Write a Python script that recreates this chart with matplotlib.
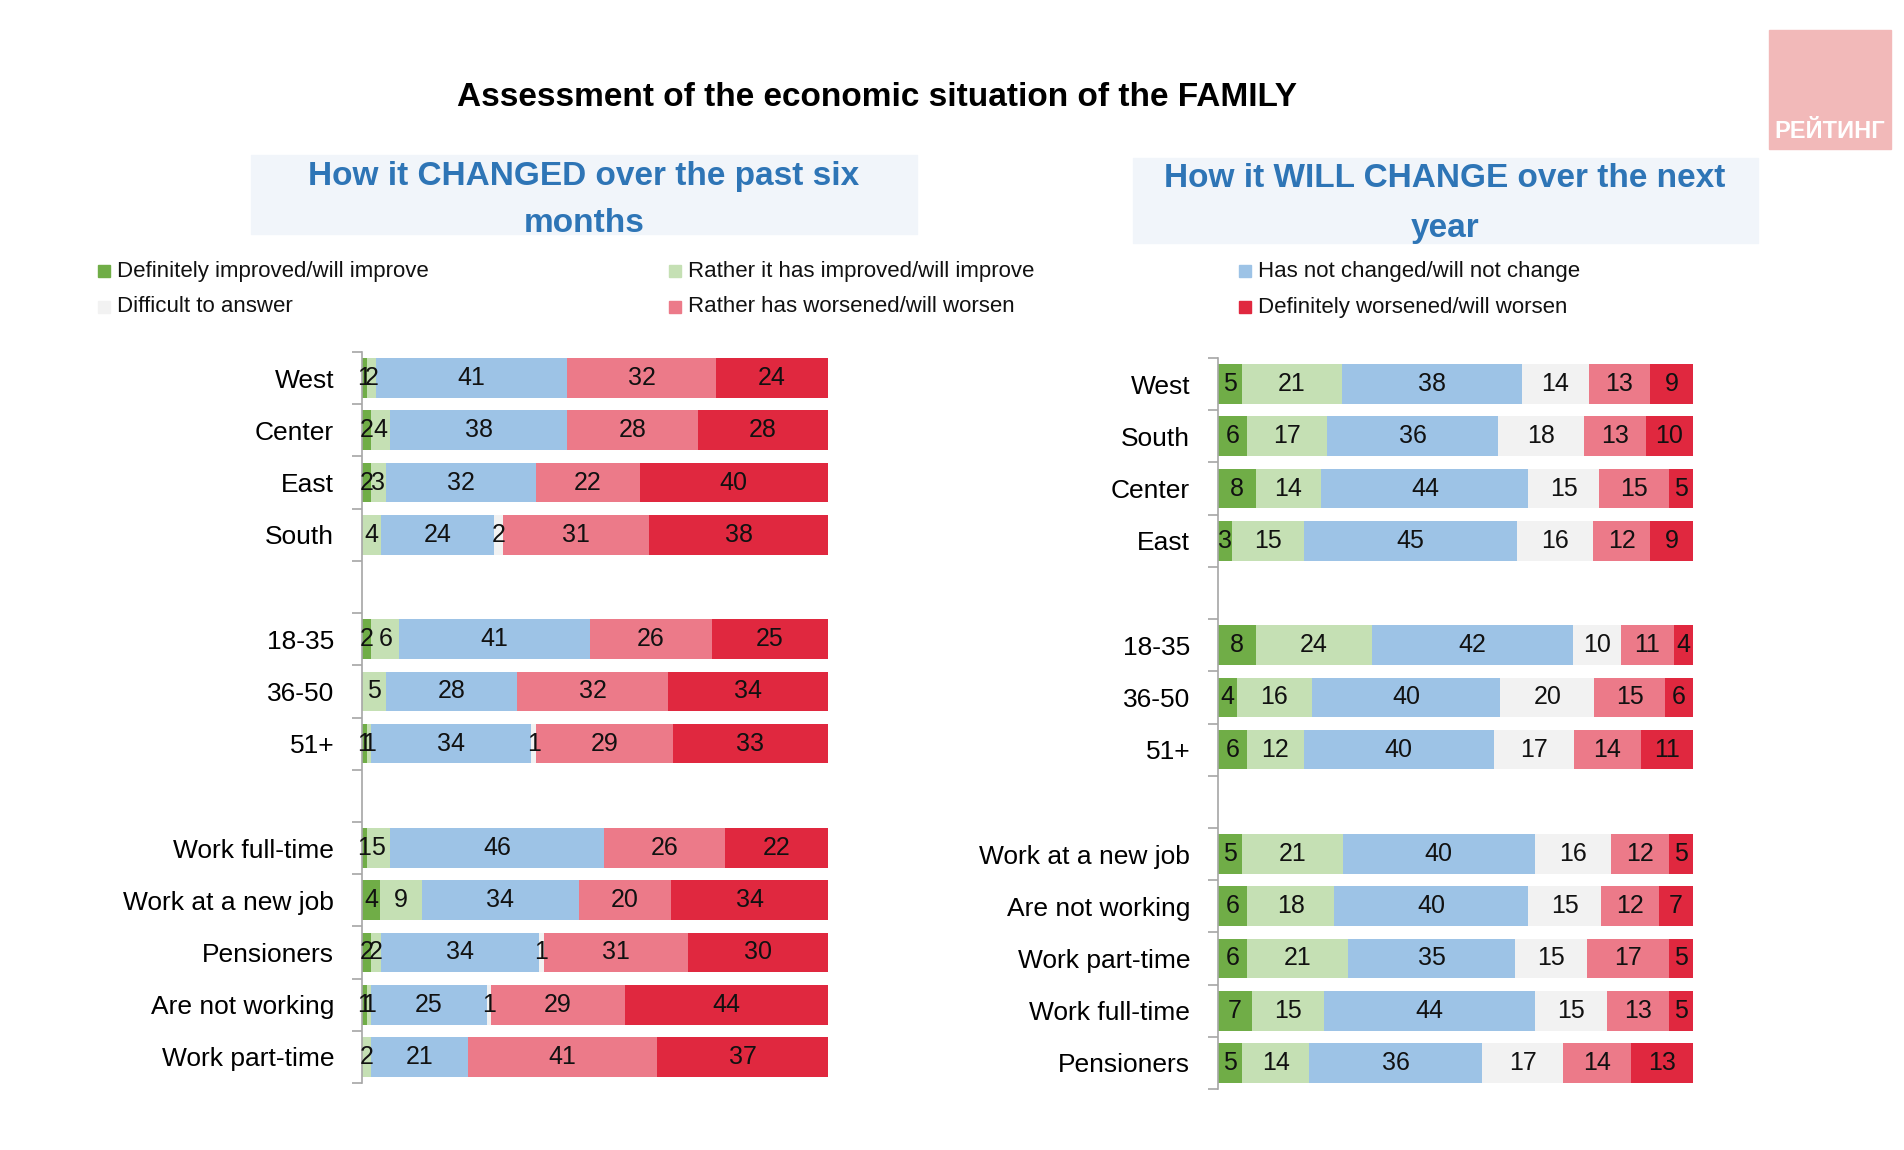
import matplotlib.pyplot as plt
import numpy as np
from matplotlib.patches import Rectangle

plt.rcParams['font.family'] = ['Liberation Sans', 'DejaVu Sans']

# answer options, in stacking order
options = [
    "Definitely improved/will improve",
    "Rather it has improved/will improve",
    "Has not changed/will not change",
    "Difficult to answer",
    "Rather has worsened/will worsen",
    "Definitely worsened/will worsen",
]
colors = ["#70ad47", "#c5e0b4", "#9dc3e6", "#f2f2f2", "#ec7a89", "#e0283f"]

# left panel: how it changed over the past six months
past_cats = ["West", "Center", "East", "South",
             "18-35", "36-50", "51+",
             "Work full-time", "Work at a new job", "Pensioners", "Are not working", "Work part-time"]
past_groups = [4, 3, 5]
past_def_improved = [1, 2, 2, 0, 2, 0, 1, 1, 4, 2, 1, 0]
past_rather_improved = [2, 4, 3, 4, 6, 5, 1, 5, 9, 2, 1, 2]
past_not_changed = [41, 38, 32, 24, 41, 28, 34, 46, 34, 34, 25, 21]
past_difficult = [0, 0, 0, 2, 0, 0, 1, 0, 0, 1, 1, 0]
past_rather_worse = [32, 28, 22, 31, 26, 32, 29, 26, 20, 31, 29, 41]
past_def_worse = [24, 28, 40, 38, 25, 34, 33, 22, 34, 30, 44, 37]

# right panel: how it will change over the next year
next_cats = ["West", "South", "Center", "East",
             "18-35", "36-50", "51+",
             "Work at a new job", "Are not working", "Work part-time", "Work full-time", "Pensioners"]
next_groups = [4, 3, 5]
next_def_improved = [5, 6, 8, 3, 8, 4, 6, 5, 6, 6, 7, 5]
next_rather_improved = [21, 17, 14, 15, 24, 16, 12, 21, 18, 21, 15, 14]
next_not_changed = [38, 36, 44, 45, 42, 40, 40, 40, 40, 35, 44, 36]
next_difficult = [14, 18, 15, 16, 10, 20, 17, 16, 15, 15, 15, 17]
next_rather_worse = [13, 13, 15, 12, 11, 15, 14, 12, 12, 17, 13, 14]
next_def_worse = [9, 10, 5, 9, 4, 6, 11, 5, 7, 5, 5, 13]

W, H = 1904, 1150


def fx(px):
    return px / W


def fy(py):
    return 1 - py / H


def draw_panel(ax, cats, groups, series):
    # positions with one empty row between groups
    pos = []
    start = 0
    for g in groups:
        pos += list(range(start, start + g))
        start += g + 1
    nslots = start - 1

    data = np.array(series, dtype=float)
    shares = data / data.sum(axis=0) * 100
    left = np.zeros(len(cats))
    for i in range(len(series)):
        bars = ax.barh(pos, shares[i], left=left, height=0.76, color=colors[i], linewidth=0)
        labels = [str(int(v)) if v > 0 else "" for v in data[i]]
        ax.bar_label(bars, labels=labels, label_type="center", fontsize=18, color="#111111")
        left += shares[i]

    ax.set_xlim(0, 100)
    ax.set_ylim(nslots - 0.5, -0.5)
    ax.set_yticks(pos)
    ax.set_yticklabels(cats)
    ax.set_yticks(np.arange(-0.5, nslots, 1), minor=True)
    ax.tick_params(axis="y", which="major", length=0, pad=20, labelsize=19)
    ax.tick_params(axis="y", which="minor", length=7, color="#a6a6a6", width=1.2)
    ax.set_xticks([])
    for s in ["top", "right", "bottom"]:
        ax.spines[s].set_visible(False)
    ax.spines["left"].set_color("#a6a6a6")
    ax.spines["left"].set_linewidth(1.2)


fig = plt.figure(figsize=(19.04, 11.5), dpi=100)

ax1 = fig.add_axes([fx(362), fy(1083), fx(828) - fx(362), (1083 - 352) / H])
draw_panel(ax1, past_cats, past_groups,
           [past_def_improved, past_rather_improved, past_not_changed,
            past_difficult, past_rather_worse, past_def_worse])

ax2 = fig.add_axes([fx(1218), fy(1089), fx(1693) - fx(1218), (1089 - 358) / H])
draw_panel(ax2, next_cats, next_groups,
           [next_def_improved, next_rather_improved, next_not_changed,
            next_difficult, next_rather_worse, next_def_worse])

# main title
fig.text(fx(877), fy(97), "Assessment of the economic situation of the FAMILY",
         ha="center", va="center", fontsize=24, fontweight="bold", color="black")

# subtitle boxes
fig.add_artist(Rectangle((fx(251), fy(234)), fx(917) - fx(251), (234 - 155) / H,
                         transform=fig.transFigure, color="#f1f5fa", zorder=0))
fig.text(fx(584), fy(177), "How it CHANGED over the past six", ha="center", va="center",
         fontsize=24, fontweight="bold", color="#2e75b6")
fig.text(fx(584), fy(223), "months", ha="center", va="center",
         fontsize=24, fontweight="bold", color="#2e75b6")

fig.add_artist(Rectangle((fx(1133), fy(243)), fx(1758) - fx(1133), (243 - 158) / H,
                         transform=fig.transFigure, color="#f1f5fa", zorder=0))
fig.text(fx(1445), fy(179), "How it WILL CHANGE over the next", ha="center", va="center",
         fontsize=24, fontweight="bold", color="#2e75b6")
fig.text(fx(1445), fy(228), "year", ha="center", va="center",
         fontsize=24, fontweight="bold", color="#2e75b6")

# legend: 3 columns, filled row by row
col_x = [104, 675, 1245]
row_y = [271, 307]
for i, (name, c) in enumerate(zip(options, colors)):
    row, col = divmod(i, 3)
    x, y = col_x[col], row_y[row]
    fig.add_artist(Rectangle((fx(x - 6), fy(y + 6)), 12 / W, 12 / H,
                             transform=fig.transFigure, color=c))
    fig.text(fx(x + 13), fy(y), name, ha="left", va="center", fontsize=16, color="#111111")

# logo
fig.add_artist(Rectangle((fx(1769), fy(149)), (1891 - 1769) / W, (149 - 30) / H,
                         transform=fig.transFigure, color="#f2b9b9"))
fig.text(fx(1830), fy(132), "РЕЙТИНГ", ha="center", va="center",
         fontsize=17, fontweight="bold", color="white")

fig.savefig("out.png", dpi=100, facecolor="white")
